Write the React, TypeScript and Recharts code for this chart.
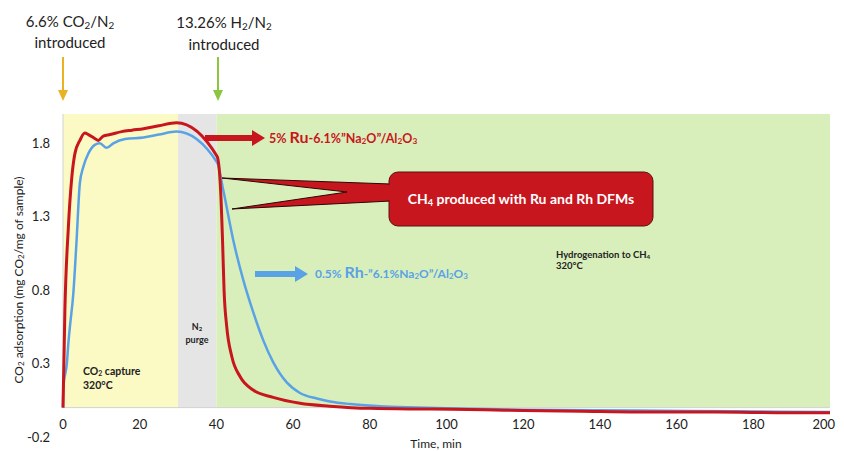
import React from "react";
import {
  LineChart,
  Line,
  XAxis,
  YAxis,
  ReferenceArea,
  ReferenceLine,
} from "recharts";

// 5% Ru-6.1%"Na2O"/Al2O3 run (time in min, CO2 in mg/mg sample)
const ruTime = [
  0, 0.5, 1.4, 2.3, 3.1, 4.4, 5.7, 6.6, 7.9, 9.2, 10.5, 12.3, 15.3, 18, 21, 25,
  29.6, 40.2, 41.1, 41.6, 42, 42.7, 44, 46.2, 49.6, 54.8, 61.8, 69.6, 80, 96,
  110, 120, 135, 150, 170, 189, 200,
];
const ruValue = [
  0, 0.67, 1.23, 1.57, 1.73, 1.82, 1.87, 1.86, 1.84, 1.82, 1.85, 1.86, 1.88,
  1.89, 1.9, 1.92, 1.94, 1.71, 1.48, 1.14, 0.8, 0.55, 0.35, 0.21, 0.12, 0.07,
  0.03, 0.01, -0.005, -0.01, -0.015, -0.02, -0.025, -0.03, -0.03, -0.035,
  -0.035,
];

// 0.5% Rh-"6.1%Na2O"/Al2O3 run
const rhTime = [
  0, 0.1, 1.0, 1.4, 1.8, 2.7, 3.5, 4.4, 5.3, 6.6, 8.3, 9.6, 11.4, 13.1, 16.2,
  21, 25, 29.6, 40.2, 41.8, 44.4, 47, 49.6, 52.2, 54.8, 58.4, 61.8, 66.2, 69.6,
  75, 82.7, 90, 100, 120, 150, 175, 200,
];
const rhValue = [
  0, 0.14, 0.3, 0.44, 0.55, 0.78, 1.12, 1.53, 1.64, 1.73, 1.79, 1.8, 1.77, 1.8,
  1.83, 1.84, 1.86, 1.88, 1.67, 1.48, 1.14, 0.87, 0.65, 0.46, 0.31, 0.17, 0.1,
  0.062, 0.042, 0.024, 0.01, 0.002, -0.005, -0.015, -0.02, -0.025, -0.03,
];

const xTicks = [0, 20, 40, 60, 80, 100, 120, 140, 160, 180, 200];
const yTicks = [-0.2, 0.3, 0.8, 1.3, 1.8];

// experiment stages: capture, purge, hydrogenation
const stageStart = [0, 30, 40];
const stageEnd = [30, 40, 200];
const stageFill = ["#FBFAC4", "#E5E5E5", "#D9EFBB"];

const ruData = ruTime.map((t, i) => ({ t, v: ruValue[i] }));
const rhData = rhTime.map((t, i) => ({ t, v: rhValue[i] }));

const W = 836;
const H = 443;
const M = { top: 106, right: 14, bottom: 0, left: 10 };
const Y_AXIS_W = 45;
const FONT = "Lato, 'Open Sans', sans-serif";

const Sub = ({ children }: { children: React.ReactNode }) => (
  <tspan baselineShift="-18%" fontSize="0.66em">
    {children}
  </tspan>
);

const XTick = (props: any) => {
  const { x, y, payload } = props;
  // keep the last label inside the drawing area
  const last = payload.value === xTicks[xTicks.length - 1];
  return (
    <text
      x={last ? x + 5 : x}
      y={y - 13}
      textAnchor={last ? "end" : "middle"}
      dominantBaseline="central"
      fontSize={13}
      fill="#222"
      fontFamily={FONT}
    >
      {payload.value}
    </text>
  );
};

const DownArrow = ({ x, color }: { x: number; color: string }) => (
  <g>
    <line x1={x} y1={49} x2={x} y2={84} stroke={color} strokeWidth={2} />
    <polygon points={`${x - 5},82 ${x + 5},82 ${x},93`} fill={color} />
  </g>
);

const RightArrow = ({
  x1,
  x2,
  y,
  color,
}: {
  x1: number;
  x2: number;
  y: number;
  color: string;
}) => (
  <g>
    <rect x={x1} y={y - 3} width={x2 - x1 - 12} height={6} fill={color} />
    <polygon
      points={`${x2 - 13},${y - 8} ${x2},${y} ${x2 - 13},${y + 8}`}
      fill={color}
    />
  </g>
);

const Annotations = () => (
  <svg
    width={W}
    height={H}
    style={{ position: "absolute", left: 0, top: 0, pointerEvents: "none" }}
    fontFamily={FONT}
  >
    {/* gas switch markers */}
    <text x={62} y={19} textAnchor="middle" fontSize={15} fill="#222">
      6.6% CO<Sub>2</Sub>/N<Sub>2</Sub>
    </text>
    <text x={62} y={40} textAnchor="middle" fontSize={15} fill="#222">
      introduced
    </text>
    <DownArrow x={55} color="#E8B223" />
    <text x={216} y={20} textAnchor="middle" fontSize={15} fill="#222">
      13.26% H<Sub>2</Sub>/N<Sub>2</Sub>
    </text>
    <text x={216} y={42} textAnchor="middle" fontSize={15} fill="#222">
      introduced
    </text>
    <DownArrow x={210} color="#8CC63F" />

    {/* series labels */}
    <RightArrow x1={197} x2={257} y={130} color="#C8161E" />
    <text x={261} y={135} fontSize={12.5} fontWeight={700} fill="#C8161E">
      5% <tspan fontSize={16}>Ru</tspan>-6.1%”Na<Sub>2</Sub>O”/Al<Sub>2</Sub>O
      <Sub>3</Sub>
    </text>
    <RightArrow x1={247} x2={300} y={266} color="#5AA2E6" />
    <text x={307} y={270} fontSize={12} fontWeight={700} fill="#5AA2E6">
      0.5% <tspan fontSize={16}>Rh</tspan>-”6.1%Na<Sub>2</Sub>O”/Al<Sub>2</Sub>O
      <Sub>3</Sub>
    </text>

    {/* callout */}
    <path
      d="M214,170 L383,176 L383,193 L224,201 L339,184 Z"
      fill="#C8161E"
      stroke="#2a0505"
      strokeWidth={1}
    />
    <rect
      x={381}
      y={164}
      width={264}
      height={54}
      rx={9}
      fill="#C8161E"
      stroke="#5a1010"
      strokeWidth={1}
    />
    <rect x={380} y={177} width={4} height={15} fill="#C8161E" />
    <text
      x={513}
      y={196}
      textAnchor="middle"
      fontSize={14}
      fontWeight={700}
      fill="#fff"
    >
      CH<Sub>4</Sub> produced with Ru and Rh DFMs
    </text>

    {/* stage labels */}
    <text x={75} y={367} fontSize={10.5} fontWeight={700} fill="#222">
      CO<Sub>2</Sub> capture
    </text>
    <text x={75} y={381} fontSize={10.5} fontWeight={700} fill="#222">
      320°C
    </text>
    <text x={189} y={322} textAnchor="middle" fontSize={9} fontWeight={700} fill="#222">
      N<Sub>2</Sub>
    </text>
    <text x={189} y={335} textAnchor="middle" fontSize={9} fontWeight={700} fill="#222">
      purge
    </text>
    <text x={548} y={250} fontSize={9.5} fontWeight={700} fill="#222">
      Hydrogenation to CH<Sub>4</Sub>
    </text>
    <text x={548} y={261} fontSize={9.5} fontWeight={700} fill="#222">
      320°C
    </text>

    {/* axis titles */}
    <text
      transform="translate(15,272) rotate(-90)"
      textAnchor="middle"
      fontSize={12}
      fill="#222"
    >
      CO<Sub>2</Sub> adsorption (mg CO<Sub>2</Sub>/mg of sample)
    </text>
    <text x={428} y={440} textAnchor="middle" fontSize={12} fill="#222">
      Time, min
    </text>
  </svg>
);

export default function App() {
  return (
    <div style={{ position: "relative", width: W, height: H }}>
      <LineChart width={W} height={H} margin={M}>
        {stageStart.map((s, i) => (
          <ReferenceArea
            key={s}
            x1={s}
            x2={stageEnd[i]}
            y1={0}
            y2={2}
            fill={stageFill[i]}
            fillOpacity={1}
            stroke="none"
          />
        ))}
        <XAxis
          dataKey="t"
          type="number"
          domain={[0, 200]}
          ticks={xTicks}
          axisLine={false}
          tickLine={false}
          tickSize={0}
          tickMargin={0}
          height={14}
          tick={<XTick />}
          allowDuplicatedCategory={false}
        />
        <YAxis
          type="number"
          domain={[-0.2, 2]}
          ticks={yTicks}
          width={Y_AXIS_W}
          axisLine={false}
          tickLine={false}
          tickSize={0}
          tickMargin={13}
          tick={{ fontSize: 13, fill: "#222", fontFamily: FONT }}
        />
        <ReferenceLine y={0} stroke="#D2D2D2" strokeWidth={1} />
        <ReferenceLine
          segment={[
            { x: 0, y: 0 },
            { x: 0, y: 2 },
          ]}
          stroke="#D2D2D2"
          strokeWidth={1}
        />
        <Line
          data={rhData}
          dataKey="v"
          type="monotone"
          stroke="#5AA2E6"
          strokeWidth={2.5}
          dot={false}
          isAnimationActive={false}
        />
        <Line
          data={ruData}
          dataKey="v"
          type="monotone"
          stroke="#C8161E"
          strokeWidth={3}
          dot={false}
          isAnimationActive={false}
        />
      </LineChart>
      <Annotations />
    </div>
  );
}
